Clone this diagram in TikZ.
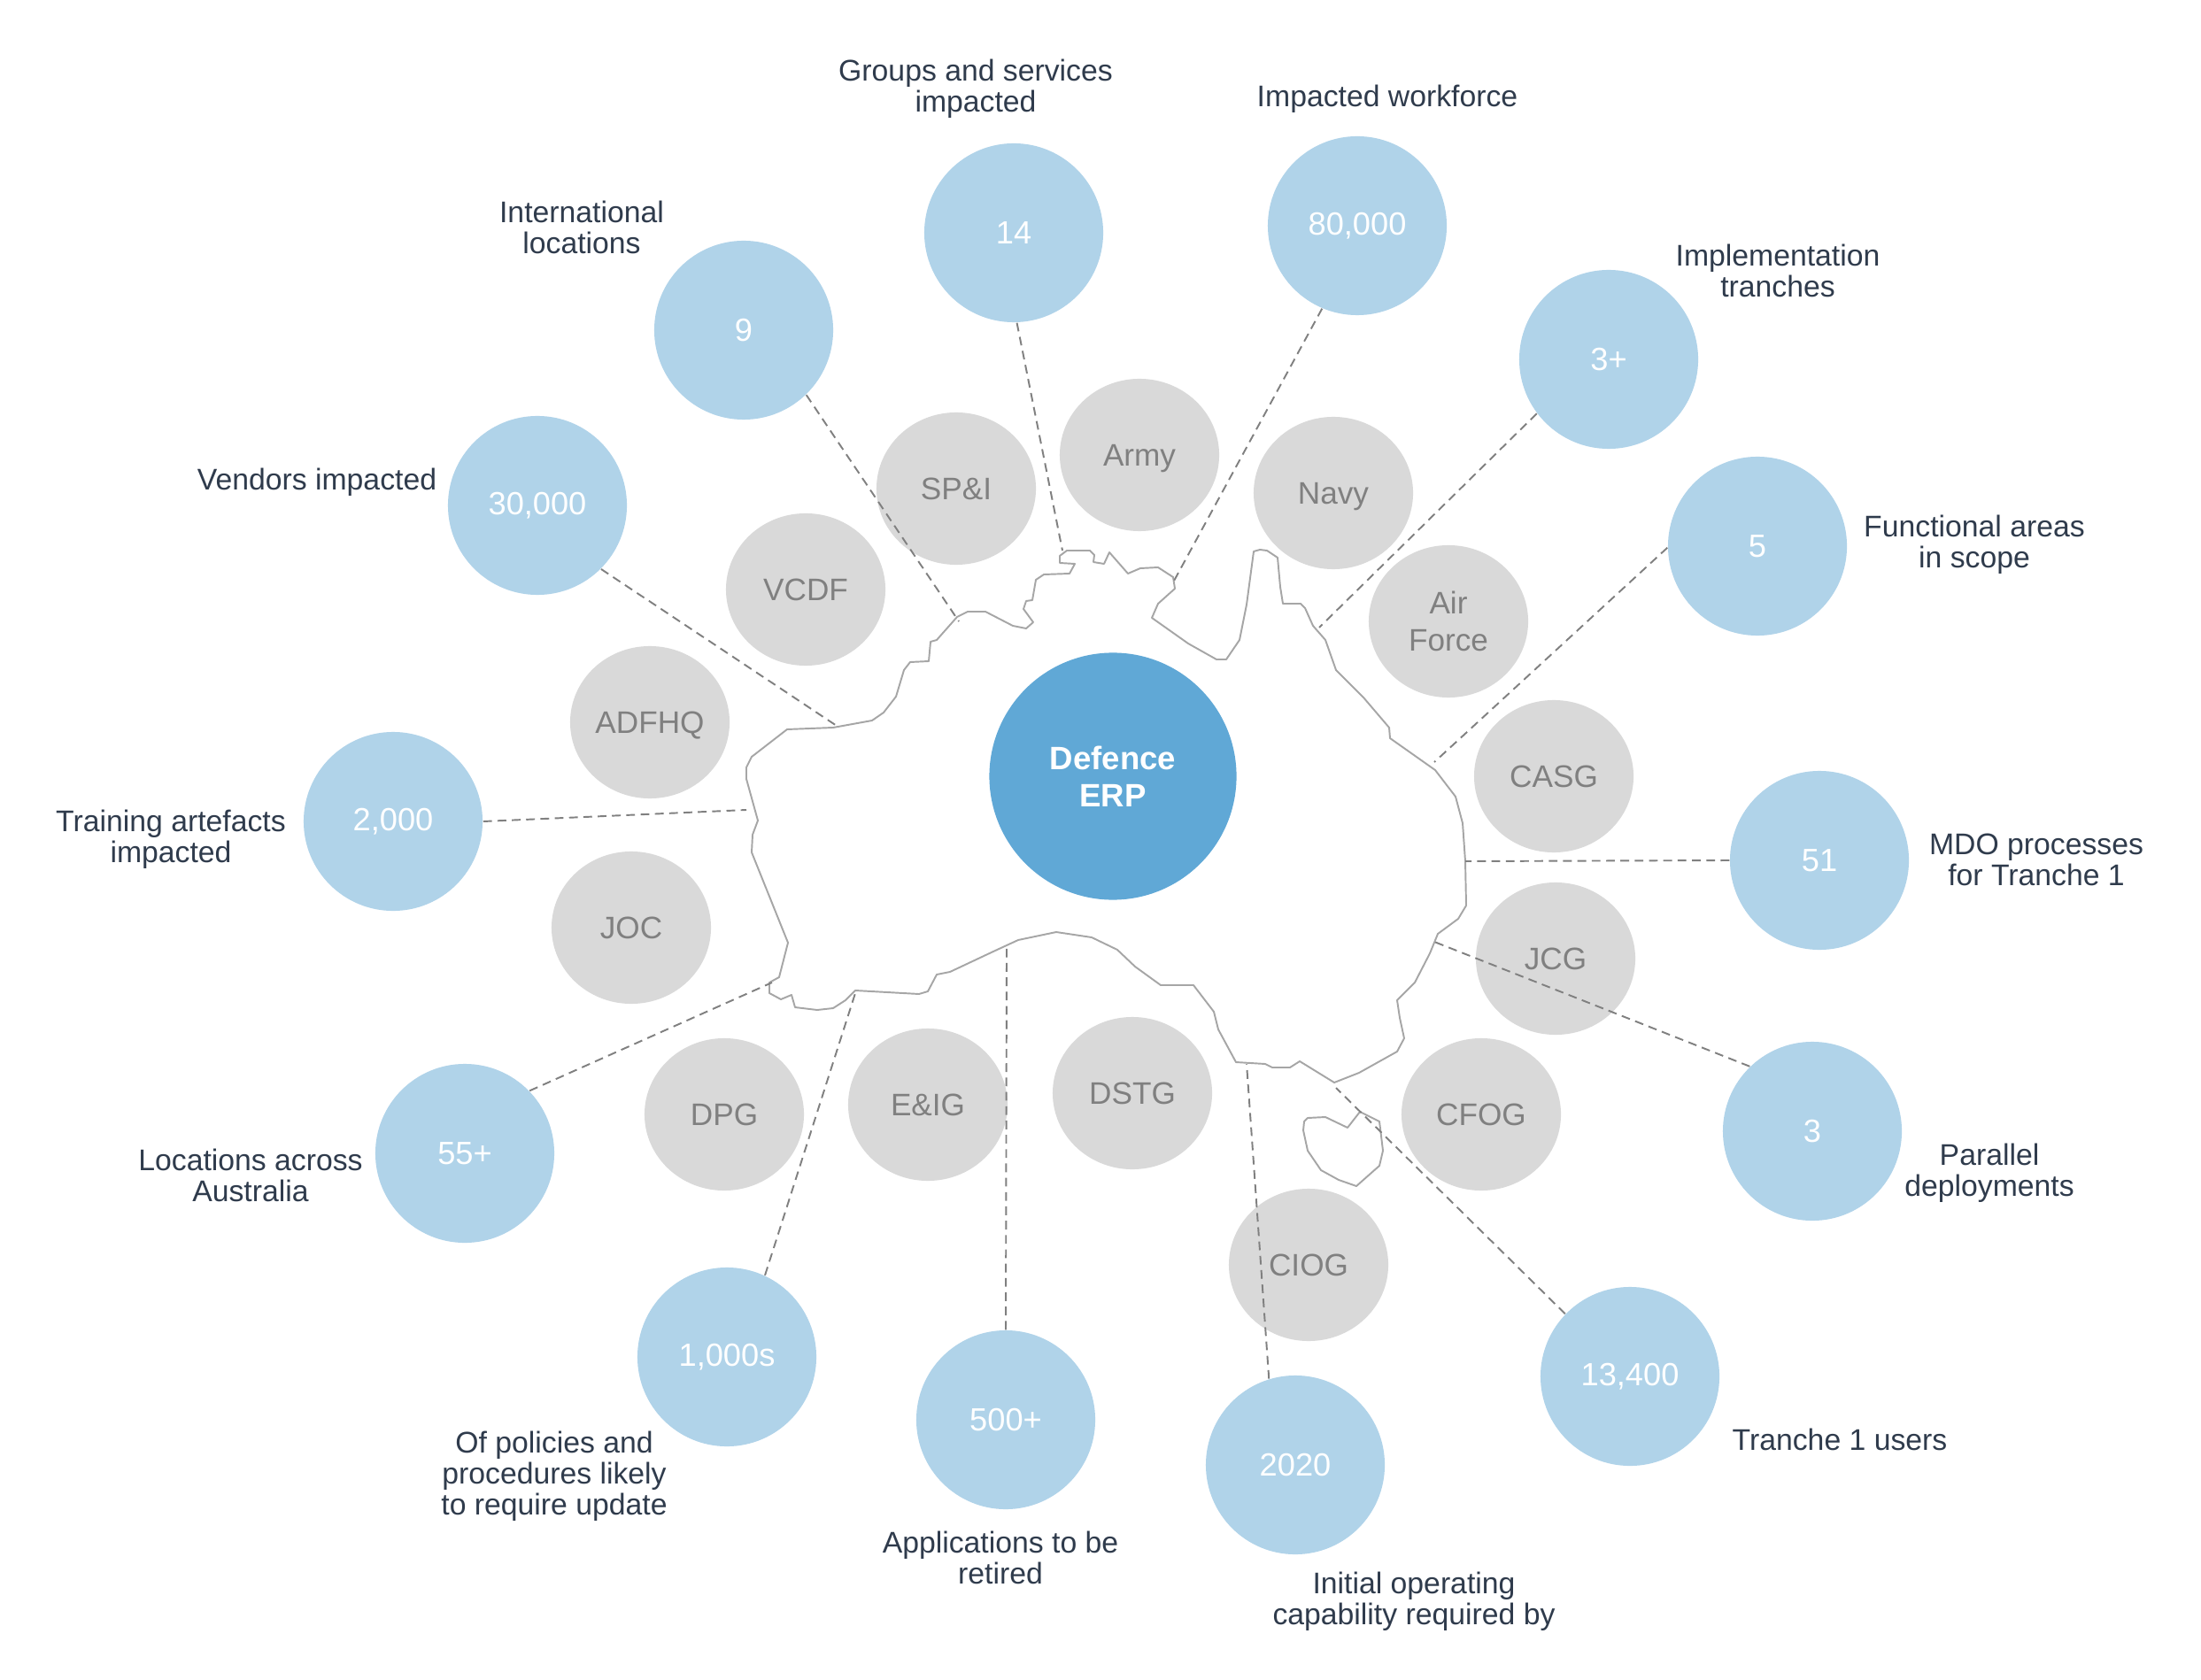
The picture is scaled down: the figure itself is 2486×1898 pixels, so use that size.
\documentclass[tikz,border=0pt]{standalone}
\usepackage{fontspec}
\setmainfont{Liberation Sans}
\usepackage{xcolor}
\usetikzlibrary{shapes.geometric}
\definecolor{hubblue}{HTML}{60A8D6}
\definecolor{statblue}{HTML}{B0D3E9}
\definecolor{groupgray}{HTML}{D9D9D9}
\definecolor{labelink}{HTML}{2F3B4C}

\begin{document}
\begin{tikzpicture}[x=0.01cm,y=-0.01cm,
  hub/.style={circle,fill=hubblue,text=white,inner sep=0pt,minimum size=2.79cm,align=center,font=\fontsize{10.4}{12}\selectfont\bfseries},
  stat/.style={circle,fill=statblue,text=white,inner sep=0pt,minimum size=2.02cm,font=\fontsize{10.3}{12}\selectfont},
  group/.style={ellipse,fill=groupgray,text=black!50,inner sep=0pt,minimum width=1.8cm,minimum height=1.72cm,align=center,font=\fontsize{10}{12}\selectfont},
  caption/.style={text=labelink,align=center,inner sep=0pt,font=\fontsize{9.6}{10}\selectfont},
  leader/.style={draw=black!50,line width=0.55pt,dash pattern=on 2.8pt off 1.8pt},
  coast/.style={draw=black!35,line width=0.55pt,line join=round}]
  \useasboundingbox (0,0) rectangle (2486,1898);

  % groups
  \node[group,text depth=0pt] (army) at (1287,514) {Army};
  \node[group] (spi) at (1080,552) {SP\&I};
  \node[group,text depth=0pt] (navy) at (1506,557) {Navy};
  \node[group] (vcdf) at (910,666) {VCDF};
  \node[group] (airforce) at (1636,702) {Air\\Force};
  \node[group,text depth=0pt] (adfhq) at (734,816) {ADFHQ};
  \node[group] (casg) at (1755,877) {CASG};
  \node[group] (joc) at (713,1048) {JOC};
  \node[group] (jcg) at (1757,1083) {JCG};
  \node[group] (dpg) at (818,1259) {DPG};
  \node[group] (eig) at (1048,1248) {E\&IG};
  \node[group] (dstg) at (1279,1235) {DSTG};
  \node[group] (cfog) at (1673,1259) {CFOG};
  \node[group] (ciog) at (1478,1429) {CIOG};

  % map
  \draw[coast] (843,867) -- (849,855) -- (889,824) -- (941,822) -- (985,814) -- (998,805) -- (1012,787)
    -- (1021,757) -- (1028,748) -- (1049,747) -- (1051,725) -- (1058,723) -- (1081,697) -- (1093,691)
    -- (1113,691) -- (1144,707) -- (1159,710) -- (1167,703) -- (1156,688) -- (1159,679) -- (1166,678)
    -- (1170,655) -- (1179,649) -- (1208,648) -- (1214,637) -- (1197,636) -- (1197,628) -- (1205,622)
    -- (1231,622) -- (1236,627) -- (1235,635) -- (1247,637) -- (1253,624) -- (1274,648) -- (1288,642)
    -- (1308,641) -- (1325,652) -- (1327,665) -- (1308,682) -- (1301,698) -- (1342,727) -- (1374,745)
    -- (1385,745) -- (1400,723) -- (1408,683) -- (1416,623) -- (1423,621) -- (1431,622) -- (1443,630)
    -- (1446,663) -- (1449,682) -- (1469,682) -- (1474,687) -- (1483,707) -- (1497,723) -- (1509,757)
    -- (1540,788) -- (1569,822) -- (1570,834) -- (1621,870) -- (1644,900) -- (1652,930) -- (1655,973)
    -- (1656,1023) -- (1647,1038) -- (1624,1055) -- (1615,1077) -- (1598,1110) -- (1578,1130)
    -- (1581,1150) -- (1586,1173) -- (1578,1188) -- (1535,1212) -- (1507,1223) -- (1468,1199)
    -- (1457,1206) -- (1437,1206) -- (1429,1202) -- (1396,1200) -- (1376,1163) -- (1371,1143)
    -- (1348,1113) -- (1311,1113) -- (1282,1092) -- (1262,1073) -- (1233,1059) -- (1193,1053)
    -- (1150,1062) -- (1124,1074) -- (1073,1098) -- (1058,1101) -- (1048,1120) -- (1038,1123)
    -- (966,1119) -- (955,1130) -- (941,1139) -- (923,1141) -- (898,1138) -- (894,1124) -- (882,1129)
    -- (869,1122) -- (869,1110) -- (880,1104) -- (890,1065) -- (849,963) -- (850,943) -- (856,927)
    -- (843,880) -- cycle;
  \draw[coast] (1473,1267) -- (1477,1263) -- (1497,1262) -- (1522,1274) -- (1536,1256) -- (1558,1267)
    -- (1562,1300) -- (1558,1317) -- (1532,1340) -- (1512,1333) -- (1492,1322) -- (1477,1300)
    -- (1472,1277) -- cycle;

  % centre
  \node[hub] (erp) at (1257,877) {Defence\\ERP};

  % figures
  \node[stat] (groups) at (1145,263) {14};
  \node[stat] (workforce) at (1533,255) {80,000};
  \node[stat] (tranches) at (1817,406) {3+};
  \node[stat] (areas) at (1985,617) {5};
  \node[stat] (processes) at (2055,972) {51};
  \node[stat] (deployments) at (2047,1278) {3};
  \node[stat] (users) at (1841,1555) {13,400};
  \node[stat] (capability) at (1463,1655) {2020};
  \node[stat] (applications) at (1136,1604) {500+};
  \node[stat] (policies) at (821,1533) {1,000s};
  \node[stat] (locations) at (525,1303) {55+};
  \node[stat] (artefacts) at (444,928) {2,000};
  \node[stat] (vendors) at (607,571) {30,000};
  \node[stat] (international) at (840,373) {9};

  % captions
  \node[caption] (groupscap) at (1102,100) {Groups and services\\impacted};
  \node[caption] (workforcecap) at (1567,112) {Impacted workforce};
  \node[caption] (tranchescap) at (2008,306) {Implementation\\tranches};
  \node[caption] (areascap) at (2230,615) {Functional areas\\in scope};
  \node[caption] (processescap) at (2300,971) {MDO processes\\for Tranche 1};
  \node[caption] (deploymentscap) at (2247,1325) {Parallel\\deployments};
  \node[caption] (userscap) at (2078,1626) {Tranche 1 users};
  \node[caption] (capabilitycap) at (1597,1809) {Initial operating\\capability required by};
  \node[caption] (applicationscap) at (1130,1760) {Applications to be\\retired};
  \node[caption] (policiescap) at (626,1668) {Of policies and\\procedures likely\\to require update};
  \node[caption] (locationscap) at (283,1328) {Locations across\\Australia};
  \node[caption] (artefactscap) at (193,948) {Training artefacts\\impacted};
  \node[caption] (vendorscap) at (358,545) {Vendors impacted};
  \node[caption] (internationalcap) at (657,257) {International\\locations};

  % ends on the coast
  \coordinate (cgroups) at (1200,622);
  \coordinate (cworkforce) at (1325,658);
  \coordinate (ctranches) at (1490,709);
  \coordinate (careas) at (1620,861);
  \coordinate (cprocesses) at (1655,973);
  \coordinate (cdeployments) at (1620,1064);
  \coordinate (cusers) at (1509,1229);
  \coordinate (ccapability) at (1408,1202);
  \coordinate (capplications) at (1137,1070);
  \coordinate (cpolicies) at (967,1119);
  \coordinate (clocations) at (872,1110);
  \coordinate (cartefacts) at (843,915);
  \coordinate (cvendors) at (945,820);
  \coordinate (cinternational) at (1083,702);

  % leaders
  \draw[leader] (groups.272) -- (cgroups);
  \draw[leader] (workforce.247) -- (cworkforce);
  \draw[leader] (tranches.217) -- (ctranches);
  \draw[leader] (areas.181) -- (careas);
  \draw[leader] (processes.180) -- (cprocesses);
  \draw[leader] (deployments.134) -- (cdeployments);
  \draw[leader] (users.136) -- (cusers);
  \draw[leader] (capability.107) -- (ccapability);
  \draw[leader] (applications.90) -- (capplications);
  \draw[leader] (policies.65) -- (cpolicies);
  \draw[leader] (locations.44) -- (clocations);
  \draw[leader] (artefacts.0) -- (cartefacts);
  \draw[leader] (vendors.315) -- (cvendors);
  \draw[leader] (international.314) -- (cinternational);
\end{tikzpicture}
\end{document}
